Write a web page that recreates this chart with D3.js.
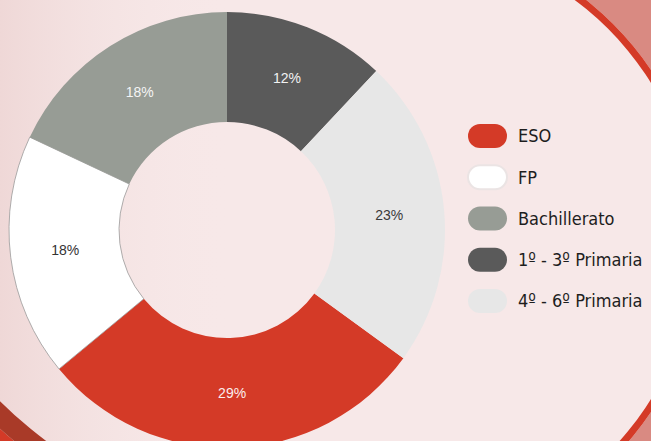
<!DOCTYPE html>
<html>
<head>
<meta charset="utf-8">
<script src="https://cdn.jsdelivr.net/npm/d3@7"></script>
<style>
  html, body { margin: 0; padding: 0; background: #f7e8e8; }
  svg { display: block; }
</style>
</head>
<body>
<div id="chart"></div>
<script>
// donut - share of students by level
const categories = ["ESO", "FP", "Bachillerato", "1º - 3º Primaria", "4º - 6º Primaria"]
const values = [29, 18, 18, 12, 23]

const WD = 651, HT = 441
const cx = 227, cy = 230
const rOuter = 218, rInner = 108

const colour = d3.scaleOrdinal()
  .domain(categories)
  .range(["#d43a27", "#ffffff", "#979c95", "#5a5a5a", "#e7e7e7"])

const labelColour = d3.scaleOrdinal()
  .domain(categories)
  .range(["#fbeeee", "#333333", "#f4f4f4", "#f2f2f2", "#3a3a3a"])

const data = categories.map((c, i) => ({ cat: c, value: values[i] }))
const total = d3.sum(values)

const svg = d3.select("#chart").append("svg")
  .attr("width", WD)
  .attr("height", HT)

let defs = svg.append("defs")
defs.append("clipPath").attr("id", "clipRight")
  .append("rect").attr("x", 470).attr("y", 0).attr("width", 181).attr("height", HT)
defs.append("clipPath").attr("id", "clipLeft")
  .append("rect").attr("x", 0).attr("y", 300).attr("width", 170).attr("height", 141)

let grad = defs.append("linearGradient").attr("id", "leftShade")
  .attr("x1", "0%").attr("y1", "0%").attr("x2", "100%").attr("y2", "0%")
grad.append("stop").attr("offset", 0).attr("stop-color", "#eed6d5").attr("stop-opacity", 0.9)
grad.append("stop").attr("offset", 1).attr("stop-color", "#f7e8e8").attr("stop-opacity", 0)

// background
const bg = svg.append("g")
bg.append("rect").attr("width", WD).attr("height", HT).attr("fill", "#f7e8e8")
bg.append("rect").attr("x", 0).attr("y", 0).attr("width", 230).attr("height", HT)
  .attr("fill", "url(#leftShade)")

// ring bands drawn as annuli
const ring = (r0, r1) => d3.arc().innerRadius(r0).outerRadius(r1)
  .startAngle(0).endAngle(2 * Math.PI)()

// red ring on the right
const right = bg.append("g").attr("clip-path", "url(#clipRight)")
  .append("g").attr("transform", "translate(396,241)")
right.append("path").attr("d", ring(307, 800)).attr("fill", "#d98a82")
right.append("path").attr("d", ring(300, 307)).attr("fill", "#d43a27")

// bands in the lower left corner
const left = bg.append("g").attr("clip-path", "url(#clipLeft)")
  .append("g").attr("transform", "translate(300,100)")
left.append("path").attr("d", ring(445, 800)).attr("fill", "#d43a27")
left.append("path").attr("d", ring(425, 445)).attr("fill", "#a93a28")

// pie, ESO starts at 35% of the turn so 1º-3º sits at 12 o'clock
const startA = 2 * Math.PI * (values[3] + values[4]) / total
const pie = d3.pie().sort(null).value(d => d.value)
  .startAngle(startA).endAngle(startA + 2 * Math.PI)
const arc = d3.arc().innerRadius(rInner).outerRadius(rOuter)

const g = svg.append("g").attr("transform", "translate(" + cx + "," + cy + ")")

g.selectAll("path")
  .data(pie(data))
  .enter()
  .append("path")
    .attr("d", arc)
    .attr("fill", d => colour(d.data.cat))
    .attr("stroke", d => d.data.cat == "FP" ? "#9a9a9a" : "none")
    .attr("stroke-width", 0.8)

g.selectAll("text")
  .data(pie(data))
  .enter()
  .append("text")
    .attr("transform", d => "translate(" + arc.centroid(d) + ")")
    .attr("dy", "0.35em")
    .attr("text-anchor", "middle")
    .attr("font-family", "Liberation Sans, Arial, sans-serif")
    .attr("font-size", "14px")
    .attr("fill", d => labelColour(d.data.cat))
    .text(d => Math.round(d.data.value / total * 100) + "%")

// legend
const ly = d3.scalePoint().domain(categories).range([136, 301])
const legend = svg.append("g")
  .selectAll("g")
  .data(categories)
  .enter()
  .append("g")
    .attr("transform", d => "translate(468," + ly(d) + ")")

legend.append("rect")
  .attr("x", 0).attr("y", -12)
  .attr("width", 39).attr("height", 24)
  .attr("rx", 12)
  .attr("fill", d => colour(d))
  .attr("stroke", d => d == "FP" ? "#ebe4e4" : "none")
  .attr("stroke-width", 2)

legend.append("text")
  .attr("x", 50)
  .attr("dy", "0.36em")
  .attr("font-family", "DejaVu Sans Condensed, sans-serif")
  .attr("font-stretch", "condensed")
  .attr("font-size", "18px")
  .attr("fill", "#1e1e1e")
  .text(d => d)
</script>
</body>
</html>
